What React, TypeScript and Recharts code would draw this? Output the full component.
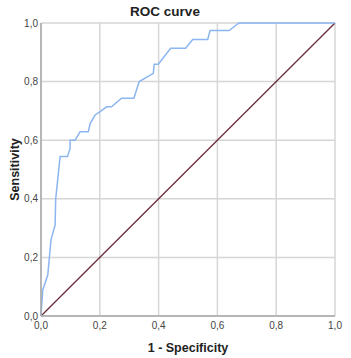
import React from 'react';
import { LineChart, Line, XAxis, YAxis, CartesianGrid } from 'recharts';

const fpr = [0, 0.006, 0.023, 0.034, 0.048, 0.05, 0.065, 0.09, 0.099, 0.099, 0.116, 0.133, 0.161, 0.167, 0.184, 0.2, 0.223, 0.24, 0.274, 0.316, 0.334, 0.382, 0.385, 0.399, 0.441, 0.492, 0.516, 0.567, 0.575, 0.64, 0.673, 1.0];
const tpr = [0, 0.089, 0.14, 0.26, 0.31, 0.4, 0.544, 0.544, 0.572, 0.6, 0.6, 0.629, 0.629, 0.657, 0.686, 0.697, 0.714, 0.714, 0.743, 0.743, 0.8, 0.828, 0.859, 0.859, 0.914, 0.914, 0.944, 0.944, 0.974, 0.974, 1.0, 1.0];
const refX = [0, 1];
const refY = [0, 1];
const ticks = [0, 0.2, 0.4, 0.6, 0.8, 1.0];

const rocData = fpr.map((x, i) => ({ x, y: tpr[i] }));
const refData = refX.map((x, i) => ({ x, y: refY[i] }));

const fmt = (v: number) => v.toFixed(1).replace('.', ',');
const FONT = '"Liberation Sans", Arial, sans-serif';

export default function App() {
  return (
    <div style={{ position: 'absolute', left: 0, top: 0, width: 351, height: 358, background: '#fff', fontFamily: FONT }}>
      <div style={{ position: 'absolute', left: 115, width: 100, top: 4, textAlign: 'center', fontSize: 13.5, fontWeight: 'bold', color: '#222' }}>ROC curve</div>
      <LineChart width={351} height={358} margin={{ top: 23, right: 16, bottom: 0, left: 0 }}>
        <CartesianGrid stroke="#d6d6d6" strokeWidth={1.5} vertical horizontal />
        <XAxis
          dataKey="x"
          type="number"
          domain={[0, 1]}
          ticks={ticks}
          tickFormatter={fmt}
          height={42}
          tickLine={false}
          tickSize={0}
          tickMargin={6}
          axisLine={{ stroke: '#a8a8a8', strokeWidth: 1.5 }}
          tick={{ fontSize: 10, fill: '#444', fontFamily: FONT }}
          allowDuplicatedCategory={false}
          label={{ value: '1 - Specificity', position: 'insideBottom', offset: 6, fontSize: 12.5, fontWeight: 'bold', fill: '#222', fontFamily: FONT }}
        />
        <YAxis
          type="number"
          domain={[0, 1]}
          ticks={ticks}
          tickFormatter={fmt}
          width={41}
          tickLine={false}
          tickSize={0}
          tickMargin={3}
          axisLine={{ stroke: '#a8a8a8', strokeWidth: 1.5 }}
          tick={{ fontSize: 10, fill: '#444', fontFamily: FONT }}
          label={{ value: 'Sensitivity', angle: -90, position: 'insideLeft', offset: 15, fontSize: 12.5, fontWeight: 'bold', fill: '#222', style: { textAnchor: 'middle' }, fontFamily: FONT }}
        />
        <Line data={refData} dataKey="y" stroke="#6b2d3b" strokeWidth={1.3} dot={false} isAnimationActive={false} />
        <Line data={rocData} dataKey="y" stroke="#8cb6f0" strokeWidth={1.5} dot={false} isAnimationActive={false} />
      </LineChart>
    </div>
  );
}
